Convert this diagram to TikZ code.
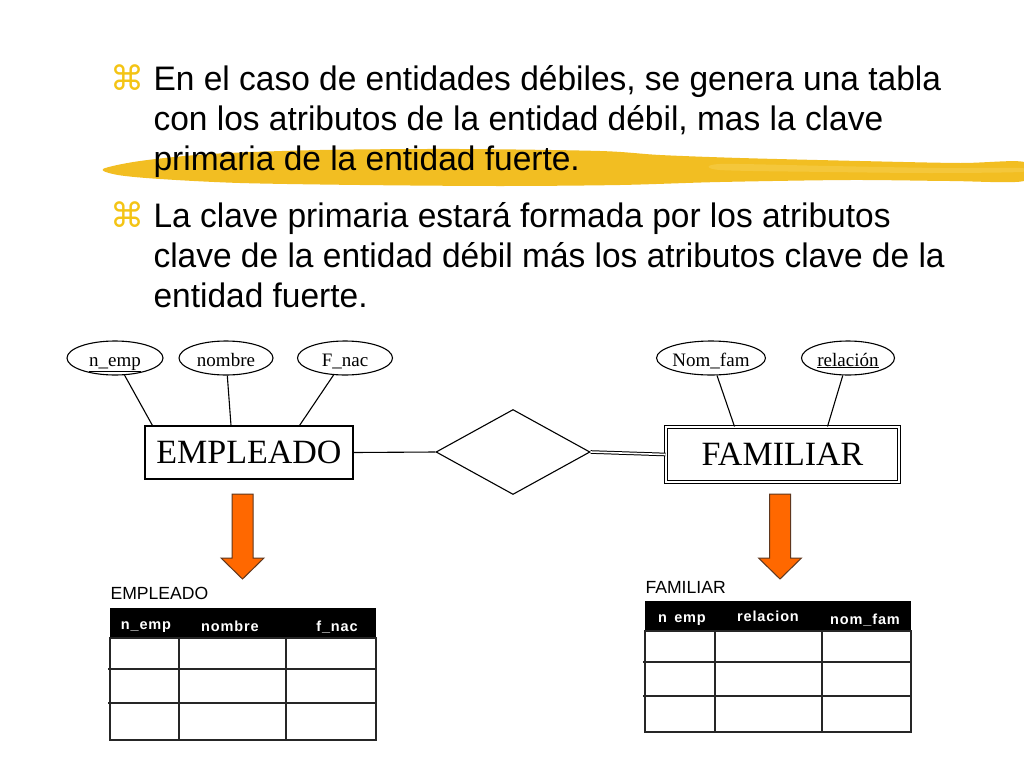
\documentclass[tikz,border=0pt]{standalone}
\usepackage{fontspec}
\setmainfont{Liberation Serif}
\newfontfamily\slidefont{Liberation Sans}[FakeStretch=0.985]
\newfontfamily\tablefont{Liberation Sans}
\newfontfamily\symbolfont{DejaVu Sans}
\usetikzlibrary{shapes.geometric}

\definecolor{bulletgold}{RGB}{244,196,20}
\definecolor{markeryellow}{RGB}{242,190,34}
\definecolor{markerpale}{RGB}{248,212,90}
\definecolor{arroworange}{RGB}{255,104,0}
\definecolor{arrowedge}{RGB}{95,55,30}

\tikzset{
  para/.style={anchor=base west, inner sep=0, align=left,
    font=\slidefont\fontsize{34}{40}\selectfont},
  bullet/.style={text=bulletgold, inner sep=0, font=\symbolfont\fontsize{34}{34}\selectfont},
  attr/.style={draw, ellipse, minimum width=95, minimum height=34, inner sep=0,
    text height=16, text depth=0, font=\fontsize{19}{19}\selectfont},
  entity/.style={draw, rectangle, minimum width=208, minimum height=53, inner sep=0,
    font=\fontsize{34}{34}\selectfont},
  weakentity/.style={entity, double, line width=1, double distance=1.6,
    minimum width=233, minimum height=55},
  relship/.style={draw, diamond, minimum width=154, minimum height=85, inner sep=0},
  tabtitle/.style={anchor=base west, inner sep=0, font=\tablefont\fontsize{17.6}{18}\selectfont},
  tabhead/.style={anchor=base, inner sep=0, text=white,
    font=\tablefont\bfseries\fontsize{14.5}{15}\selectfont\addfontfeatures{LetterSpace=6}},
  tabline/.style={line width=1.4, draw=black!85},
  bigarrow/.pic={
    \draw[fill=arroworange, draw=arrowedge, line width=1]
      (-10.5,0) -- (10.5,0) -- (10.5,64) -- (21.5,64) -- (0,85)
      -- (-21.5,64) -- (-10.5,64) -- cycle;}
}

\begin{document}
\begin{tikzpicture}[x=1pt, y=-1pt, line width=1.1]
\useasboundingbox[fill=white] (0,0) rectangle (1024,768);

% marker stroke under the first paragraph
\fill[markeryellow] plot[smooth cycle] coordinates {
  (103,169) (140,161) (210,154) (320,150) (460,149) (600,151) (660,155)
  (740,158) (860,161) (960,163) (1024,162) (1024,181) (950,181) (850,180)
  (720,182) (620,185) (500,186) (360,185) (240,183) (160,179) (118,175)};
\fill[markerpale, opacity=.45] plot[smooth cycle] coordinates {
  (720,164) (830,166) (940,168) (1020,168) (1020,172) (930,173) (830,172) (720,170)};

\node[bullet] (b1) at (127.5,77.5) {⌘};
\node[para] (p1) at (153,170) {En el caso de entidades débiles, se genera una tabla\\
  con los atributos de la entidad débil, mas la clave\\
  primaria de la entidad fuerte.};
\node[bullet] (b2) at (127.5,214.5) {⌘};
\node[para] (p2) at (153,307) {La clave primaria estará formada por los atributos\\
  clave de la entidad débil más los atributos clave de la\\
  entidad fuerte.};

% E-R diagram
\node[attr, minimum width=96] (nemp) at (115,358) {\underline{n\_emp}};
\node[attr, minimum width=94] (nombre) at (226,358) {nombre};
\node[attr] (fnac) at (345,358) {F\_nac};
\node[attr, minimum width=92] (nomfam) at (711,358) {Nom\_fam};
\node[attr, minimum width=93] (relacion) at (848,358) {\underline{relación}};

\node[entity] (empleado) at (249,452.5) {EMPLEADO};
\node[weakentity] (familiar) at (782.5,454.5) {FAMILIAR};
\node[relship] (tiene) at (513,452) {};

\draw (nemp) -- ([xshift=8]empleado.north west);
\draw (nombre) -- ([xshift=-18]empleado.north);
\draw (fnac) -- ([xshift=-54]empleado.north east);
\draw (nomfam) -- ([xshift=-48]familiar.north);
\draw (relacion) -- ([xshift=45]familiar.north);
\draw (empleado.east) -- (tiene.west);
\draw[double, line width=1, double distance=1.6] (tiene.east) -- (familiar.west);

\pic at (242.5,494) {bigarrow};
\pic at (780,494) {bigarrow};

% table EMPLEADO
\node[tabtitle] (tabemp) at (110,599) {EMPLEADO};
\fill[black] (110,608) rectangle (376,638);
\foreach \y in {669,703}
  \draw[tabline] (108,\y) -- (376,\y);
\draw[tabline] (110,638) rectangle (376,740);
\foreach \x in {179,286}
  \draw[tabline] (\x,638) -- (\x,740);
\node[tabhead] (h1) at (146,629) {n\_emp};
\node[tabhead] (h2) at (230,631) {nombre};
\node[tabhead] (h3) at (337,631) {f\_nac};

% table FAMILIAR
\node[tabtitle] (tabfam) at (645,593) {FAMILIAR};
\fill[black] (645,601) rectangle (911,631);
\foreach \y in {662,696}
  \draw[tabline] (643,\y) -- (911,\y);
\draw[tabline] (645,631) rectangle (911,732);
\foreach \x in {715,822}
  \draw[tabline] (\x,631) -- (\x,732);
\node[tabhead] (k1) at (682,622) {n\enspace emp};
\node[tabhead] (k2) at (768,621) {relacion};
\node[tabhead] (k3) at (865,624) {nom\_fam};
\end{tikzpicture}
\end{document}
